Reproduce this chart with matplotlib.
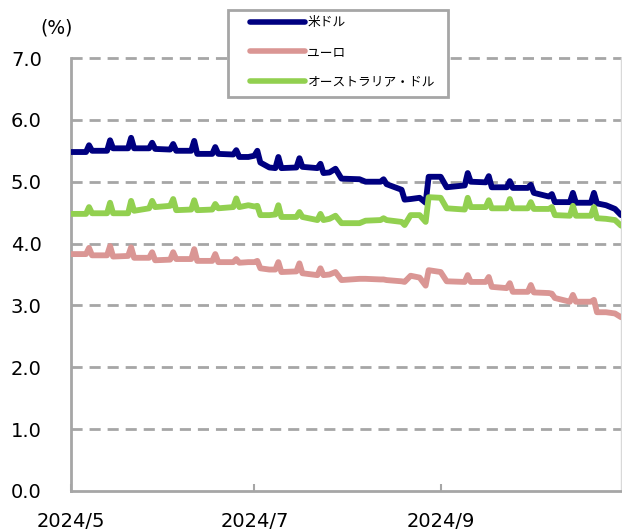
import pandas as pd
import matplotlib.pyplot as plt
from matplotlib.patches import Rectangle

plt.rcParams['font.family'] = ['DejaVu Sans', 'Noto Sans CJK JP']

# 日付（折れ点）と各通貨の金利 [%]
fechas = ["2024-05-01", "2024-05-06", "2024-05-07", "2024-05-08", "2024-05-13", "2024-05-14",
          "2024-05-15", "2024-05-20", "2024-05-21", "2024-05-22", "2024-05-27", "2024-05-28",
          "2024-05-29", "2024-06-03", "2024-06-04", "2024-06-05", "2024-06-10", "2024-06-11",
          "2024-06-12", "2024-06-17", "2024-06-18", "2024-06-19", "2024-06-24", "2024-06-25",
          "2024-06-26", "2024-06-29", "2024-07-01", "2024-07-02", "2024-07-03", "2024-07-06",
          "2024-07-08", "2024-07-09", "2024-07-10", "2024-07-15", "2024-07-16", "2024-07-17",
          "2024-07-22", "2024-07-23", "2024-07-24", "2024-07-26", "2024-07-28", "2024-07-30",
          "2024-08-05", "2024-08-07", "2024-08-12", "2024-08-13", "2024-08-14", "2024-08-19",
          "2024-08-20", "2024-08-22", "2024-08-25", "2024-08-27", "2024-08-28", "2024-09-01",
          "2024-09-03", "2024-09-09", "2024-09-10", "2024-09-11", "2024-09-16", "2024-09-17",
          "2024-09-18", "2024-09-23", "2024-09-24", "2024-09-25", "2024-09-30", "2024-10-01",
          "2024-10-02", "2024-10-07", "2024-10-08", "2024-10-09", "2024-10-14", "2024-10-15",
          "2024-10-16", "2024-10-21", "2024-10-22", "2024-10-23", "2024-10-26", "2024-10-29",
          "2024-10-31"]

usd = [5.48, 5.48, 5.59, 5.50, 5.50, 5.67, 5.54, 5.54, 5.71, 5.54, 5.54, 5.63,
       5.53, 5.52, 5.61, 5.50, 5.50, 5.66, 5.45, 5.45, 5.56, 5.45, 5.44, 5.51,
       5.40, 5.40, 5.42, 5.50, 5.31, 5.23, 5.22, 5.40, 5.22, 5.23, 5.38, 5.24,
       5.22, 5.29, 5.14, 5.15, 5.21, 5.05, 5.04, 5.00, 5.00, 5.04, 4.96, 4.87,
       4.71, 4.72, 4.74, 4.66, 5.08, 5.08, 4.91, 4.94, 5.14, 5.00, 4.99, 5.09,
       4.91, 4.91, 5.01, 4.90, 4.90, 4.95, 4.82, 4.76, 4.80, 4.67, 4.67, 4.82,
       4.66, 4.66, 4.82, 4.65, 4.62, 4.56, 4.46]

eur = [3.83, 3.83, 3.93, 3.81, 3.81, 3.96, 3.79, 3.80, 3.94, 3.77, 3.77, 3.86,
       3.73, 3.74, 3.86, 3.75, 3.75, 3.91, 3.72, 3.72, 3.83, 3.70, 3.70, 3.75,
       3.69, 3.70, 3.70, 3.72, 3.60, 3.58, 3.58, 3.70, 3.54, 3.55, 3.68, 3.52,
       3.49, 3.60, 3.49, 3.50, 3.54, 3.41, 3.43, 3.43, 3.42, 3.42, 3.41, 3.39,
       3.38, 3.48, 3.45, 3.32, 3.57, 3.54, 3.39, 3.38, 3.49, 3.38, 3.38, 3.46,
       3.30, 3.28, 3.36, 3.22, 3.22, 3.33, 3.21, 3.20, 3.19, 3.12, 3.06, 3.17,
       3.06, 3.06, 3.09, 2.89, 2.89, 2.87, 2.81]

aud = [4.48, 4.48, 4.59, 4.49, 4.49, 4.66, 4.49, 4.49, 4.69, 4.53, 4.57, 4.69,
       4.59, 4.61, 4.72, 4.54, 4.55, 4.70, 4.54, 4.55, 4.64, 4.57, 4.59, 4.73,
       4.59, 4.62, 4.60, 4.61, 4.46, 4.46, 4.47, 4.62, 4.43, 4.43, 4.51, 4.43,
       4.38, 4.48, 4.38, 4.40, 4.45, 4.33, 4.33, 4.37, 4.38, 4.41, 4.38, 4.35,
       4.30, 4.46, 4.46, 4.35, 4.75, 4.74, 4.57, 4.55, 4.74, 4.59, 4.59, 4.70,
       4.57, 4.57, 4.72, 4.57, 4.57, 4.67, 4.56, 4.56, 4.59, 4.46, 4.45, 4.61,
       4.45, 4.45, 4.59, 4.41, 4.40, 4.38, 4.29]

series = {"米ドル": (usd, "#000080"),
          "ユーロ": (eur, "#DA9694"),
          "オーストラリア・ドル": (aud, "#92D050")}

ticks_x = ["2024-05-01", "2024-07-01", "2024-09-01"]
ticks_x_labels = ["2024/5", "2024/7", "2024/9"]
ticks_y = [0, 1, 2, 3, 4, 5, 6, 7]

gris = "#A6A6A6"
fechas = pd.to_datetime(fechas)

fig = plt.figure(figsize=(6.22, 5.32), dpi=100)
ax = fig.add_axes([71 / 622, 41 / 532, 550 / 622, 433 / 532])

for nombre, (valores, cor) in series.items():
    ax.plot(fechas, valores, color=cor, linewidth=4.2, label=nombre,
            solid_joinstyle="round", solid_capstyle="round", zorder=3)

ax.set_xlim(pd.Timestamp("2024-05-01"), pd.Timestamp("2024-10-31"))
ax.set_ylim(0, 7)

for y in ticks_y[1:]:
    ax.axhline(y, color=gris, linewidth=2, linestyle=(0, (4, 2.5)), zorder=1, clip_on=False)

ax.set_xticks(pd.to_datetime(ticks_x))
ax.set_xticklabels(ticks_x_labels)
ax.set_yticks(ticks_y)
ax.set_yticklabels([f"{y:.1f}" for y in ticks_y])
ax.tick_params(axis="x", direction="in", length=5, width=1.5, color=gris, pad=15, labelsize=14)
ax.tick_params(axis="y", length=0, pad=21, labelsize=14)

ax.spines["top"].set_visible(False)
ax.spines["right"].set_color("#D9D9D9")
ax.spines["right"].set_linewidth(1)
for lado in ["left", "bottom"]:
    ax.spines[lado].set_color(gris)
    ax.spines[lado].set_linewidth(2)

fig.text(57 / 622, 1 - 28 / 532, "(%)", fontsize=13.5, ha="center", va="center")

# 凡例の枠
fig.patches.append(Rectangle((228 / 622, 1 - 97 / 532), 220 / 622, 87 / 532,
                             transform=fig.transFigure, facecolor="white",
                             edgecolor=gris, linewidth=2, zorder=5))

leg = fig.legend(loc="upper left", bbox_to_anchor=(250 / 622, 1 - 16 / 532),
                 prop={"family": ["Noto Sans CJK JP", "DejaVu Sans"], "size": 9.2},
                 handlelength=4.3, handletextpad=0.2, labelspacing=1.32,
                 borderpad=0, borderaxespad=0, frameon=False)
leg.set_zorder(6)
for linha in leg.get_lines():
    linha.set_linewidth(4)

plt.savefig("out.png", dpi=100)
